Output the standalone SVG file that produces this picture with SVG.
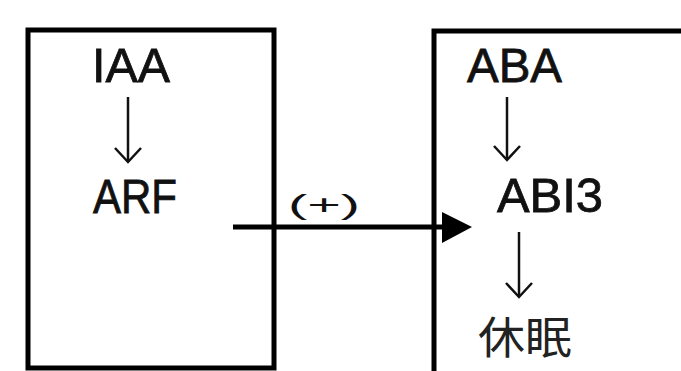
<svg xmlns="http://www.w3.org/2000/svg" width="681" height="371" viewBox="0 0 681 371">
<style>
.box{fill:none;stroke:#000;stroke-width:5}
.t{font-family:"Liberation Sans",Arial,sans-serif;font-size:48px;fill:#111;stroke:#111;stroke-width:0.8}
.cjk{font-family:"Noto Sans CJK SC","Noto Sans CJK JP",sans-serif;font-size:44px;fill:#222}
.down{fill:none;stroke:#111;stroke-width:2.5}
.main{stroke:#000;stroke-width:5}
</style>
<rect width="681" height="371" fill="#fff"/>
<g id="left-box">
<rect class="box" x="28" y="30" width="246" height="338"/>
<text class="t" x="92" y="82" textLength="78" lengthAdjust="spacingAndGlyphs">IAA</text>
<text class="t" x="93" y="213" textLength="84" lengthAdjust="spacingAndGlyphs">ARF</text>
</g>
<g id="right-box">
<path class="box" d="M434 376 V31 H690" stroke-width="6"/>
<text class="t" x="467" y="82" textLength="95" lengthAdjust="spacingAndGlyphs">ABA</text>
<text class="t" x="497" y="212" textLength="106" lengthAdjust="spacingAndGlyphs">ABI3</text>
<text class="cjk" x="478" y="354" textLength="94" lengthAdjust="spacingAndGlyphs">休眠</text>
</g>
<g id="connectors">
<line class="down" x1="128" y1="97" x2="128" y2="161"/>
<polyline class="down" points="115,148 128,162 141,148"/>
<line class="down" x1="507" y1="97" x2="507" y2="159"/>
<polyline class="down" points="494,146 507,160 520,146"/>
<line class="down" x1="519" y1="232" x2="519" y2="296"/>
<polyline class="down" points="506,283 519,297 532,283"/>
<line class="main" x1="233" y1="227" x2="446" y2="227"/>
<polygon points="442,212 472,227 442,243" fill="#000"/>
<text x="288" y="214" font-family="'Liberation Sans',Arial,sans-serif" font-size="28" fill="#111" textLength="72" lengthAdjust="spacingAndGlyphs">(+)</text>
</g>
</svg>
